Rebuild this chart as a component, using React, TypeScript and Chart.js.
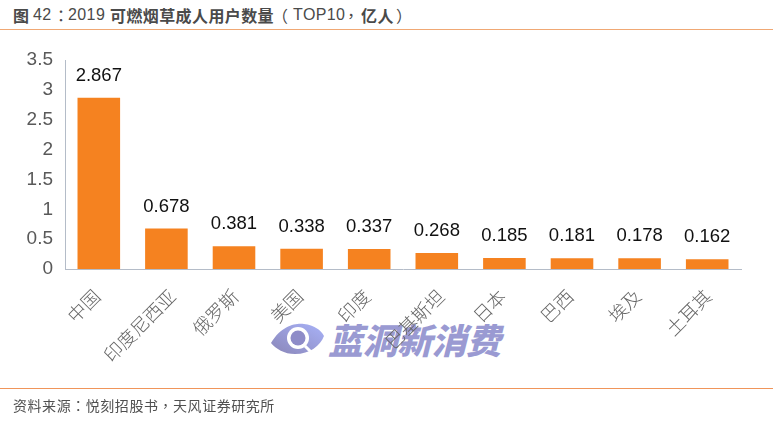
import React, { useEffect, useRef } from "react";
import { Chart, registerables } from "chart.js";

Chart.register(...registerables);

const categories = ["中国", "印度尼西亚", "俄罗斯", "美国", "印度", "巴基斯坦", "日本", "巴西", "埃及", "土耳其"];
const users = [2.867, 0.678, 0.381, 0.338, 0.337, 0.268, 0.185, 0.181, 0.178, 0.162];
const valueLabels = ["2.867", "0.678", "0.381", "0.338", "0.337", "0.268", "0.185", "0.181", "0.178", "0.162"];
const titleParts = [
  { text: "图", x: 13, bold: true },
  { text: "42", x: 33, bold: false },
  { text: "：", x: 53, bold: false },
  { text: "2019", x: 68, bold: false },
  { text: "可燃烟草成人用户数量", x: 110, bold: true },
  { text: "（", x: 272, bold: false },
  { text: "TOP10", x: 293, bold: false },
  { text: "，", x: 343, bold: false },
  { text: "亿人", x: 361, bold: true },
  { text: "）", x: 396, bold: false },
];
const sourceText = "资料来源：悦刻招股书，天风证券研究所";
const watermarkText = "蓝洞新消费";

const valueLabelPlugin = {
  id: "valueLabels",
  afterDatasetsDraw(chart: any) {
    const { ctx } = chart;
    const meta = chart.getDatasetMeta(0);
    ctx.save();
    ctx.font = '18.5px "Liberation Sans", Arial, sans-serif';
    ctx.fillStyle = "#111111";
    ctx.textAlign = "center";
    ctx.textBaseline = "alphabetic";
    meta.data.forEach((bar: any, i: number) => {
      ctx.fillText(valueLabels[i], bar.x, bar.y - 17);
    });
    ctx.restore();
  },
};

// The reference centres its rotated labels partly, so longer ones sit further right.
const labelShiftByLength: Record<number, number> = { 2: -2, 3: 1, 4: 4, 5: 6 };
const labelShiftPlugin = {
  id: "labelShift",
  beforeDraw(chart: any) {
    const scale = chart.scales.x;
    scale.getLabelItems(chart.chartArea).forEach((item: any) => {
      if (item.shifted) return;
      item.shifted = true;
      item.options.translation[0] += labelShiftByLength[String(item.label).length] ?? 0;
    });
  },
};

export default function App() {
  const ref = useRef<HTMLCanvasElement>(null);
  useEffect(() => {
    const chart = new Chart(ref.current!, {
      type: "bar",
      data: {
        labels: categories,
        datasets: [
          {
            data: users,
            backgroundColor: "#F58220",
            barPercentage: 0.63,
            categoryPercentage: 1,
          },
        ],
      },
      options: {
        animation: false,
        responsive: false,
        layout: { padding: { left: 0, right: 32, top: 60, bottom: 0 } },
        plugins: { legend: { display: false }, title: { display: false }, tooltip: { enabled: false } },
        scales: {
          x: {
            afterFit(scale: any) {
              scale.height = 156;
            },
            grid: { display: false, drawTicks: false },
            border: { color: "#B4BCC8", width: 1 },
            ticks: {
              minRotation: 45,
              maxRotation: 45,
              autoSkip: false,
              padding: 16,
              color: "#666666",
              font: { family: '"Noto Sans CJK SC", sans-serif', size: 18.5, weight: "300" },
            },
          },
          y: {
            min: 0,
            max: 3.5,
            afterFit(scale: any) {
              scale.width = 65;
            },
            grid: { display: false, drawTicks: false },
            border: { color: "#B4BCC8", width: 1 },
            ticks: {
              stepSize: 0.5,
              padding: 12,
              color: "#595959",
              font: { family: '"Liberation Sans", Arial, sans-serif', size: 19 },
              callback: (v: any) => String(v),
            },
          },
        },
      },
      plugins: [valueLabelPlugin, labelShiftPlugin],
    } as any);
    return () => chart.destroy();
  }, []);

  return (
    <div style={{ position: "absolute", left: 0, top: 0, width: 773, height: 425, background: "#fff", overflow: "hidden" }}>
      {titleParts.map((p) => (
        <div
          key={p.x}
          style={{
            position: "absolute",
            left: p.x,
            top: 5,
            fontFamily: p.text.match(/[0-9A-Z]/)
              ? '"Liberation Sans", sans-serif'
              : '"Noto Sans CJK TC", sans-serif',
            fontSize: 16,
            lineHeight: "20px",
            fontWeight: p.bold ? 700 : 400,
            letterSpacing: 0.4,
            color: "#4A4A4A",
            whiteSpace: "nowrap",
          }}
        >
          {p.text}
        </div>
      ))}
      <div style={{ position: "absolute", left: 0, top: 29, width: 773, height: 1, background: "#F0A874" }} />
      <svg width={56} height={34} viewBox="0 0 56 34" style={{ position: "absolute", left: 270, top: 322 }}>
        <defs>
          <linearGradient id="eye" x1="0" y1="1" x2="1" y2="0">
            <stop offset="0" stopColor="#8A86B8" />
            <stop offset="1" stopColor="#A8B2F8" />
          </linearGradient>
        </defs>
        <path d="M1 21 C12 3 26 1 34 2 C44 3 51 8 54 14 C50 24 40 32 25 32 C14 32 6 27 1 21 Z" fill="url(#eye)" />
        <circle cx="28" cy="16" r="11" fill="#fff" />
        <circle cx="28" cy="16" r="7.5" fill="#8E8CC8" />
        <path d="M35 24 L42 31" stroke="#fff" strokeWidth="3" />
      </svg>
      <div
        style={{
          position: "absolute",
          left: 328,
          top: 318,
          fontFamily: '"Noto Sans CJK SC", sans-serif',
          fontSize: 35,
          lineHeight: "42px",
          fontWeight: 900,
          fontStyle: "italic",
          letterSpacing: -0.5,
          color: "#9A9AD2",
          whiteSpace: "nowrap",
        }}
      >
        {watermarkText}
      </div>
      <canvas ref={ref} width={773} height={425} style={{ position: "absolute", left: 0, top: 0, display: "block" }} />
      <div style={{ position: "absolute", left: 0, top: 388, width: 773, height: 1, background: "#F0955A" }} />
      <div
        style={{
          position: "absolute",
          left: 13,
          top: 395,
          fontFamily: '"Noto Sans CJK TC", sans-serif',
          fontSize: 14,
          letterSpacing: 0.55,
          lineHeight: "20px",
          color: "#505050",
          whiteSpace: "nowrap",
        }}
      >
        {sourceText}
      </div>
    </div>
  );
}
